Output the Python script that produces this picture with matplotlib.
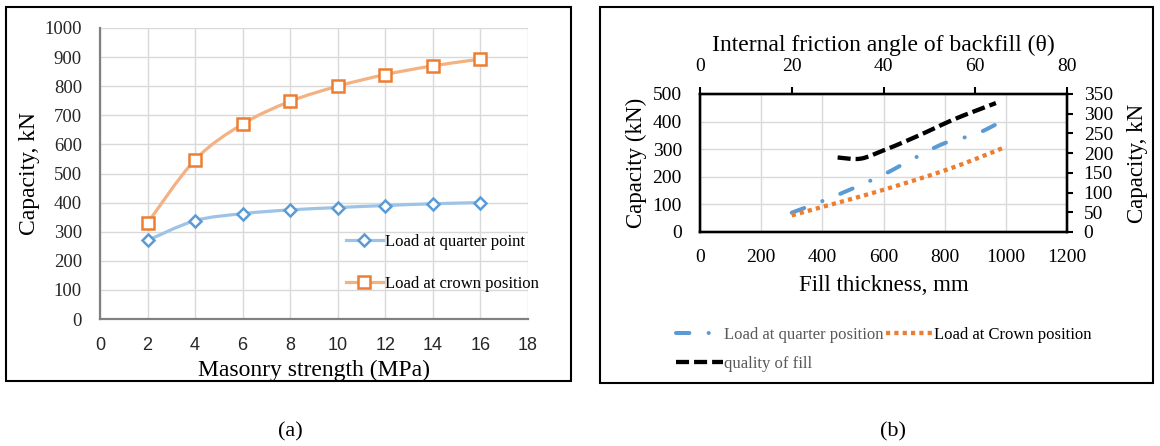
import numpy as np
import matplotlib
matplotlib.use('Agg')
import matplotlib.pyplot as plt
from matplotlib.path import Path
from matplotlib.patches import PathPatch, Rectangle
from matplotlib.lines import Line2D

plt.rcParams['font.family'] = ['Liberation Serif', 'DejaVu Serif']
plt.rcParams['lines.scale_dashes'] = False

# (a) masonry strength
strength = [2, 4, 6, 8, 10, 12, 14, 16]
load_quarter = [270, 338, 362, 375, 383, 390, 396, 400]
load_crown = [330, 547, 670, 748, 800, 840, 870, 893]

# (b) fill thickness / friction angle
fill_mm = [300, 400, 500, 600, 700, 800, 900, 975]
quarter_pos = [70, 112, 158, 208, 267, 322, 354, 394]
fill_mm_crown = [300, 400, 500, 600, 700, 800, 900, 1000]
crown_pos = [60, 91, 121, 153, 187, 223, 264, 309]
angle = [30, 35, 40, 45, 50, 55, 60, 64.5]
fill_quality = [189, 186, 207, 231, 257, 284, 307, 327]


def smooth_path(x, y):
    # excel-like smoothed line (catmull-rom as bezier)
    pts = np.column_stack([x, y]).astype(float)
    n = len(pts)
    verts = [pts[0]]
    codes = [Path.MOVETO]
    for i in range(n - 1):
        p0 = pts[i - 1] if i > 0 else pts[i]
        p3 = pts[i + 2] if i + 2 < n else pts[i + 1]
        c1 = pts[i] + (pts[i + 1] - p0) / 6
        c2 = pts[i + 1] - (p3 - pts[i]) / 6
        verts += [c1, c2, pts[i + 1]]
        codes += [Path.CURVE4] * 3
    return Path(verts, codes)


W, H = 1160, 446
fig = plt.figure(figsize=(W / 100, H / 100), dpi=100)

def fr(x0, y0, x1, y1):
    return [x0 / W, 1 - y1 / H, (x1 - x0) / W, (y1 - y0) / H]

# frames
for (x0, y0, x1, y1) in [(6, 7, 571, 381), (600, 7, 1153, 383)]:
    fig.patches.append(Rectangle((x0 / W, 1 - y1 / H), (x1 - x0) / W, (y1 - y0) / H,
                                 transform=fig.transFigure, fill=False, ec='black', lw=1.5))

# ---------------- panel (a)
ax1 = fig.add_axes(fr(100, 28, 528, 319))
ax1.set_xlim(0, 18)
ax1.set_ylim(0, 1000)
ax1.set_xticks(range(0, 19, 2))
ax1.set_yticks(range(0, 1001, 100))
ax1.grid(True, color='#D9D9D9', lw=1)
ax1.set_axisbelow(True)
for s in ['top', 'right']:
    ax1.spines[s].set_visible(False)
for s in ['left', 'bottom']:
    ax1.spines[s].set_color('#808080')
    ax1.spines[s].set_linewidth(1.6)
ax1.tick_params(axis='both', length=0, colors='#262626')
ax1.tick_params(axis='y', labelsize=13.5, pad=13)
ax1.tick_params(axis='x', labelsize=13, pad=13)
for lab in ax1.get_xticklabels():
    lab.set_family('Liberation Sans')

ax1.add_patch(PathPatch(smooth_path(strength, load_quarter), fill=False, ec='#9DC3E6', lw=2.3))
ax1.add_patch(PathPatch(smooth_path(strength, load_crown), fill=False, ec='#F4B183', lw=2.3))
ax1.plot(strength, load_quarter, ls='none', marker='D', ms=6.5, mfc='white', mec='#5B9BD5', mew=1.8)
ax1.plot(strength, load_crown, ls='none', marker='s', ms=8.5, mfc='white', mec='#ED7D31', mew=1.8)

ax1.set_xlabel('Masonry strength (MPa)', fontsize=17, labelpad=4)
ax1.set_ylabel('Capacity, kN', fontsize=17, labelpad=3)

h1 = Line2D([], [], color='#9DC3E6', lw=2.3, marker='D', ms=6.5, mfc='white', mec='#5B9BD5', mew=1.8)
h2 = Line2D([], [], color='#F4B183', lw=2.3, marker='s', ms=8.5, mfc='white', mec='#ED7D31', mew=1.8)
ax1.legend([h1, h2], ['Load at quarter point', 'Load at crown position'], loc='upper left',
           bbox_to_anchor=(346 / W, 1 - 234 / H), bbox_transform=fig.transFigure,
           frameon=False, fontsize=12, handlelength=2.2, handletextpad=0.15,
           labelspacing=1.55, borderpad=0, borderaxespad=0)

# ---------------- panel (b)
axb = fig.add_axes(fr(700, 94, 1067, 232))
axb.set_xlim(0, 1200)
axb.set_ylim(0, 500)
axb.set_xticks(range(0, 1201, 200))
axb.set_yticks(range(0, 501, 100))
axb.grid(True, color='#D9D9D9', lw=1)
axb.set_axisbelow(True)
for s in axb.spines.values():
    s.set_color('black')
    s.set_linewidth(1.6)
axb.tick_params(axis='both', length=0, labelsize=14)
axb.tick_params(axis='y', pad=13)
axb.tick_params(axis='x', pad=12)
axb.set_xlabel('Fill thickness, mm', fontsize=16.5, labelpad=7)
axb.set_ylabel('Capacity (kN)', fontsize=16.5, labelpad=4)

quarter_ls = (0, (9.6, 13.9, 0.1, 13.9))
crown_ls = (0, (3, 3))
quality_ls = (0, (9.4, 3.6))

axb.add_patch(PathPatch(smooth_path(fill_mm, quarter_pos), fill=False, ec='#5B9BD5', lw=2.9,
                        linestyle=quarter_ls, capstyle='round'))
axb.add_patch(PathPatch(smooth_path(fill_mm_crown, crown_pos), fill=False, ec='#ED7D31', lw=3.1,
                        linestyle=crown_ls, capstyle='butt'))

axr = axb.twinx()
axr.set_ylim(0, 350)
axr.set_yticks(range(0, 351, 50))
axr.tick_params(axis='y', direction='out', length=4, width=1.5, labelsize=14, pad=8)
axr.set_ylabel('Capacity, kN', fontsize=16.5, labelpad=10)
for s in axr.spines.values():
    s.set_linewidth(1.6)

axtop = axr.twiny()
axtop.set_xlim(0, 80)
axtop.set_xticks(range(0, 81, 20))
axtop.tick_params(axis='x', direction='out', length=5, width=1.5, labelsize=14, pad=9)
axtop.set_xlabel('Internal friction angle of backfill (θ)', fontsize=17, labelpad=5)
for s in axtop.spines.values():
    s.set_linewidth(1.6)
axtop.add_patch(PathPatch(smooth_path(angle, fill_quality), fill=False, ec='black', lw=3.1,
                          linestyle=quality_ls, capstyle='butt'))

hq = Line2D([], [], color='#5B9BD5', lw=2.9, linestyle=quarter_ls, dash_capstyle='round')
hc = Line2D([], [], color='#ED7D31', lw=3.1, linestyle=crown_ls)
hf = Line2D([], [], color='black', lw=3.1, linestyle=quality_ls)
leg = fig.legend([hq, hf, hc], ['Load at quarter position', 'quality of fill', 'Load at Crown position'],
                 loc='upper left', bbox_to_anchor=(676 / W, 1 - 327 / H), ncol=2,
                 frameon=False, fontsize=12, handlelength=2.8, handletextpad=0.1,
                 columnspacing=0.1, labelspacing=0.75, borderpad=0, borderaxespad=0)
for t, c in zip(leg.get_texts(), ['#595959', '#595959', 'black']):
    t.set_color(c)

fig.text(290 / W, 1 - 432 / H, '(a)', fontsize=16, ha='center', va='center')
fig.text(893 / W, 1 - 432 / H, '(b)', fontsize=16, ha='center', va='center')

fig.savefig('out.png', dpi=100)
